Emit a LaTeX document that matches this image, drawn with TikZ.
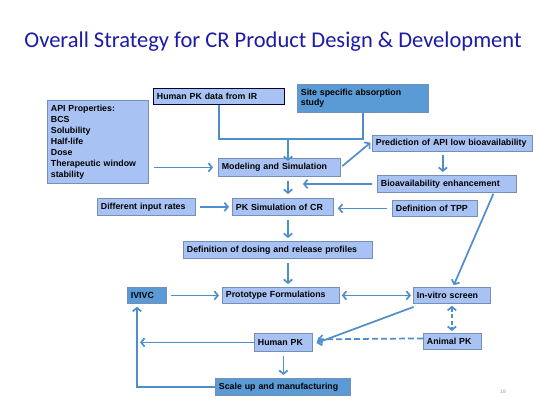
\documentclass[tikz,border=0pt]{standalone}
\usepackage{fontspec}
\newfontfamily\boxfont{Liberation Sans}
\newfontfamily\titlefont{Carlito}
\usetikzlibrary{arrows.meta}
\definecolor{lightfill}{HTML}{A8C3F3}
\definecolor{midfill}{HTML}{5B9BD5}
\definecolor{boxline}{HTML}{7490B8}
\definecolor{arrowblue}{HTML}{4E8FCB}
\definecolor{titleblue}{HTML}{1C1CA4}
\tikzset{
  box/.style={draw=boxline,fill=lightfill,line width=0.8pt,anchor=north west,align=left,
    inner xsep=3.5pt,inner ysep=1pt,font=\boxfont\bfseries\fontsize{8.8}{11}\selectfont},
  darkbox/.style={box,fill=midfill},
  arr/.style={draw=arrowblue,line width=1.7pt,-{Straight Barb[length=3.5pt,width=8.5pt]}},
  twoarr/.style={arr,{Straight Barb[length=3.5pt,width=8.5pt]}-{Straight Barb[length=3.5pt,width=8.5pt]}},
  plain/.style={draw=arrowblue,line width=1.7pt}
}
\begin{document}
\begin{tikzpicture}[x=1pt,y=-1pt]
  \useasboundingbox[fill=white] (0,0) rectangle (550,412);
  %title
  \node[font=\titlefont\fontsize{22.5}{26}\selectfont,text=titleblue] (title) at (273,42) {Overall Strategy for CR Product Design \& Development};
  %inputs
  \node[box,text width=94pt,minimum height=83pt,inner ysep=4pt] (apiprop) at (47,100) {API Properties:\\BCS\\Solubility\\Half-life\\Dose\\Therapeutic window\\stability};
  \node[box,draw=black!80!blue,text width=124pt,minimum height=16pt] (pkir) at (153,88) {Human PK data from IR};
  \node[darkbox,text width=124pt,minimum height=28pt] (siteabs) at (297,84) {Site specific absorption\\[-1pt]study};
  %modeling
  \node[box,text width=115pt,minimum height=18pt] (model) at (218,158) {Modeling and Simulation};
  \node[box,text width=153pt,minimum height=16pt] (predict) at (372,135) {Prediction of API low bioavailability};
  \node[box,text width=132pt,minimum height=17pt] (bioenh) at (377,175) {Bioavailability enhancement};
  \node[box,text width=94pt,minimum height=17pt] (pksim) at (232,198) {PK Simulation of CR};
  \node[box,text width=91pt,minimum height=17pt] (inrates) at (97,198) {Different input rates};
  \node[box,text width=78pt,minimum height=16pt] (tpp) at (392,200) {Definition of TPP};
  \node[box,text width=182pt,minimum height=17pt] (dosing) at (183,241) {Definition of dosing and release profiles};
  %formulation
  \node[darkbox,text width=32pt,minimum height=16pt] (ivivc) at (127,287) {IVIVC};
  \node[box,text width=110pt,minimum height=16pt] (proto) at (222,287) {Prototype Formulations};
  \node[box,text width=70pt,minimum height=16pt] (invitro) at (413,287) {In-vitro screen};
  \node[box,text width=51pt,minimum height=16pt] (animal) at (423,333) {Animal PK};
  \node[box,text width=51pt,minimum height=18pt] (humanpk) at (254,333) {Human PK};
  \node[darkbox,text width=128pt,minimum height=17pt] (scaleup) at (215,378) {Scale up and manufacturing};
  \node[font=\boxfont\fontsize{5}{6}\selectfont,text=black!40] (pagenum) at (503,392) {18};
  %connectors
  \coordinate (join) at (288,139);
  \coordinate (bioend) at (303,184);
  \coordinate (loop) at (137,387);
  \draw[plain] (pkir.south) |- (join);
  \draw[plain] (siteabs.south) |- (join);
  \draw[arr] (join) -- ([yshift=-3pt]join |- model.north);
  \draw[arr,shorten <=5pt,shorten >=5pt] (apiprop.east |- model.west) -- (model.west);
  \draw[arr,shorten <=2pt,shorten >=2pt] (model.east) -- ([yshift=2pt]predict.west);
  \draw[arr,shorten <=3pt,shorten >=3pt] ([xshift=-4pt]bioenh.north |- predict.south) -- ([xshift=-4pt]bioenh.north);
  \draw[arr,shorten <=5pt] (bioenh.west) -- (bioend);
  \draw[arr,shorten <=4pt,shorten >=4pt] (join |- model.south) -- (join |- pksim.north);
  \draw[arr,shorten <=1pt,shorten >=2pt] ([xshift=-23pt]bioenh.south east) -- ([xshift=40pt]invitro.north west);
  \draw[arr,shorten <=4pt,shorten >=3pt] (inrates.east) -- (pksim.west |- inrates.east);
  \draw[arr,shorten <=5pt,shorten >=4pt] (tpp.west) -- (pksim.east |- tpp.west);
  \draw[arr,shorten <=4pt,shorten >=3pt] (join |- pksim.south) -- (join |- dosing.north);
  \draw[arr,shorten <=4pt,shorten >=3pt] (join |- dosing.south) -- (join |- proto.north);
  \draw[arr,shorten <=4pt,shorten >=3pt] (ivivc.east) -- (proto.west |- ivivc.east);
  \draw[twoarr,shorten <=2pt,shorten >=2pt] (proto.east) -- (invitro.west |- proto.east);
  \draw[twoarr,dashed,dash pattern=on 4pt off 2.5pt,shorten <=2pt,shorten >=2pt] (invitro.south) -- (invitro.south |- animal.north);
  \draw[arr,dashed,dash pattern=on 6pt off 3pt,shorten >=5pt] ([yshift=3pt]animal.west) -- ([yshift=3pt]humanpk.east);
  \draw[arr,shorten <=9pt,shorten >=4pt] ([xshift=9pt]invitro.south west) -- ([yshift=-2pt]humanpk.east);
  \draw[arr,shorten >=3pt] (humanpk.west) -- (loop |- humanpk.west);
  \draw[arr,shorten >=3pt] (scaleup.west) -- (loop) -- (loop |- ivivc.south);
  \draw[arr,shorten <=4pt,shorten >=3pt] (humanpk.south) -- (humanpk.south |- scaleup.north);
\end{tikzpicture}
\end{document}
